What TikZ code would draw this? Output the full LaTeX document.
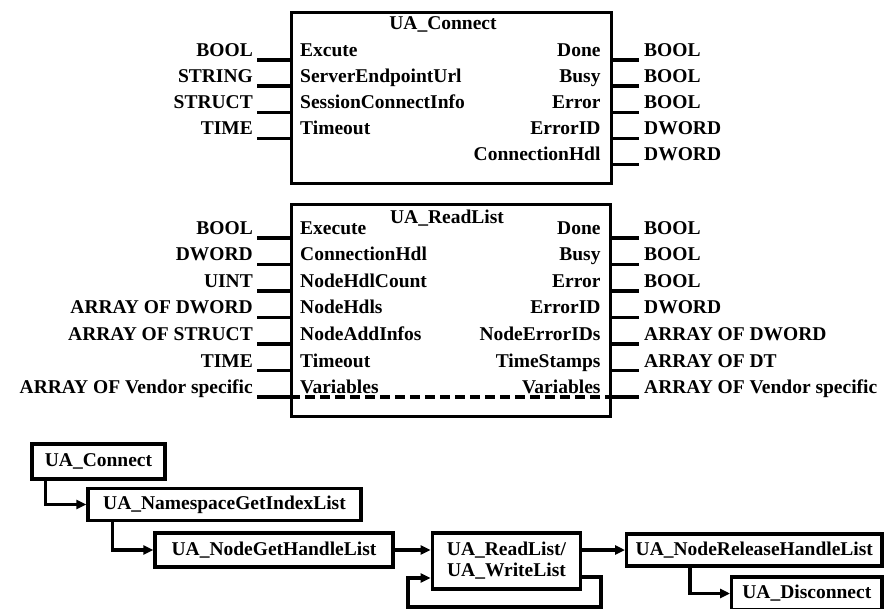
\documentclass[tikz,border=0pt]{standalone}
\usepackage{fontspec}
\setmainfont{Liberation Serif}
\usetikzlibrary{arrows.meta,calc}
\begin{document}
\begin{tikzpicture}[x=1pt,y=-1pt,
  every node/.style={font=\fontsize{19.5}{21}\selectfont\bfseries, inner sep=0pt},
  fb/.style={draw, line width=3.4pt, anchor=north west, inner sep=0pt},
  pinline/.style={line width=3.2pt},
  flow/.style={draw, line width=3.3pt, align=center, inner sep=0pt},
  arr/.style={line width=3.2pt, -{Triangle[length=10pt,width=9pt]}},
]
\useasboundingbox (0,0) rectangle (888,609);
\clip (0,0) rectangle (888,609);

% ---------- UA_Connect function block ----------
\node[fb, minimum width=320pt, minimum height=171pt] (fb1) at (290,11) {};
\node[anchor=base] (t1) at (443,30) {UA\_Connect};
\foreach \i/\t/\p in {0/BOOL/Excute, 1/STRING/ServerEndpointUrl, 2/STRUCT/SessionConnectInfo, 3/TIME/Timeout}{
  \coordinate (a\i) at (257,60+26.1*\i);
  \draw[pinline] (a\i) -- (fb1.west |- a\i);
  \node[anchor=base east] (at\i) at (253,56.5+26.1*\i) {\t};
  \node[anchor=base west] (ap\i) at (300,56.5+26.1*\i) {\p};
}
\foreach \i/\p/\t in {0/Done/BOOL, 1/Busy/BOOL, 2/Error/BOOL, 3/ErrorID/DWORD, 4/ConnectionHdl/DWORD}{
  \coordinate (b\i) at (639,60+26.1*\i);
  \draw[pinline] (fb1.east |- b\i) -- (b\i);
  \node[anchor=base east] (bp\i) at (600.7,56.5+26.1*\i) {\p};
  \node[anchor=base west] (bt\i) at (644,56.5+26.1*\i) {\t};
}

% ---------- UA_ReadList function block ----------
\node[fb, minimum width=319pt, minimum height=212pt] (fb2) at (290,203) {};
\node[anchor=base] (t2) at (447,224) {UA\_ReadList};
\foreach \i/\t/\p in {0/BOOL/Execute, 1/DWORD/ConnectionHdl, 2/UINT/NodeHdlCount, 3/ARRAY OF DWORD/NodeHdls, 4/ARRAY OF STRUCT/NodeAddInfos, 5/TIME/Timeout, 6/ARRAY OF Vendor specific/Variables}{
  \coordinate (c\i) at (257,238+26.5*\i);
  \draw[pinline] (c\i) -- (fb2.west |- c\i);
  \node[anchor=base east] (ct\i) at (253,234.5+26.5*\i) {\t};
  \node[anchor=base west] (cp\i) at (300,234.5+26.5*\i) {\p};
}
\foreach \i/\p/\t in {0/Done/BOOL, 1/Busy/BOOL, 2/Error/BOOL, 3/ErrorID/DWORD, 4/NodeErrorIDs/ARRAY OF DWORD, 5/TimeStamps/ARRAY OF DT, 6/Variables/ARRAY OF Vendor specific}{
  \coordinate (d\i) at (639,238+26.5*\i);
  \draw[pinline] (fb2.east |- d\i) -- (d\i);
  \node[anchor=base east] (dp\i) at (600.7,234.5+26.5*\i) {\p};
  \node[anchor=base west] (dt\i) at (644,234.5+26.5*\i) {\t};
}
\draw[pinline, dash pattern=on 10pt off 5pt] (fb2.west |- c6) -- (fb2.east |- d6);

% ---------- sequence ----------
\node[flow, minimum width=133pt, minimum height=35pt] (con) at (98.5,461.5) {UA\_Connect};
\node[flow, minimum width=273pt, minimum height=32pt] (ns) at (224.5,504.5) {UA\_NamespaceGetIndexList};
\node[flow, minimum width=238pt, minimum height=34pt] (ngh) at (274,550) {UA\_NodeGetHandleList};
\node[flow, minimum width=148.5pt, minimum height=56pt] (rl) at (506.5,561) {UA\_ReadList/\\UA\_WriteList};
\node[flow, minimum width=255.3pt, minimum height=32pt] (nrh) at (754.3,550) {UA\_NodeReleaseHandleList};
\node[flow, minimum width=150.3pt, minimum height=33pt] (dis) at (806.8,593.5) {UA\_Disconnect};

\coordinate (lr) at (601,607);
\coordinate (ll) at (408,607);

\draw[arr] ([xshift=15pt]con.south west) |- (ns.west);
\draw[arr] ([xshift=26pt]ns.south west) |- (ngh.west);
\draw[arr] (ngh.east) -- (rl.west |- ngh.east);
\draw[arr] ([yshift=-16pt]rl.east) -| (lr) -- (ll) |- ([yshift=-17pt]rl.west);
\draw[arr] (rl.east |- nrh.west) -- (nrh.west);
\draw[arr] ([xshift=65pt]nrh.south west) |- (dis.west);
\end{tikzpicture}
\end{document}
